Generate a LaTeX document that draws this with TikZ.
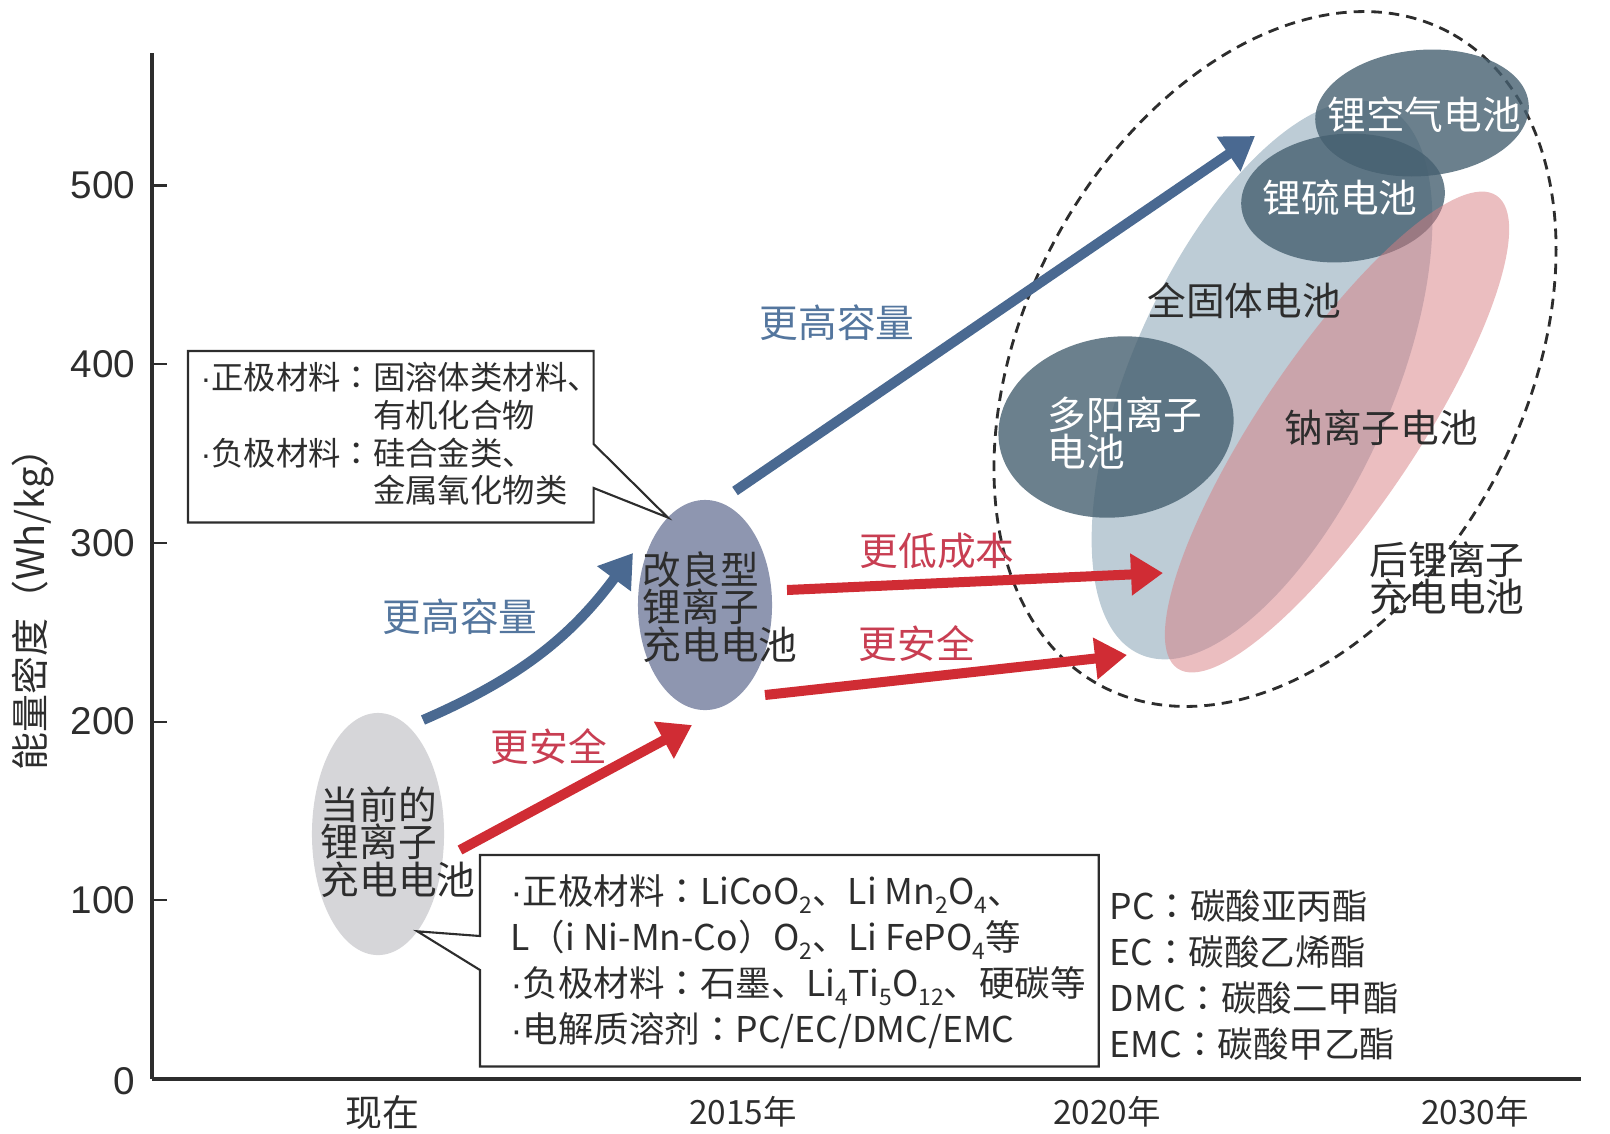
\documentclass[tikz,border=0pt]{standalone}
\usepackage{fontspec}
\setmainfont{Noto Sans CJK SC}
\newfontfamily\tickfont{Liberation Sans}
\newfontfamily\jpfont{Noto Sans CJK JP}
\newcommand{\ndot}{{\tickfont ·}}
\newcommand{\jcolon}{{\jpfont ：}}
\newcommand{\chemsub}[1]{\raisebox{-0.45ex}{\fontsize{6.5}{6.5}\selectfont #1}}
\usetikzlibrary{arrows.meta,positioning,shapes.geometric,calc}

\definecolor{upblue}{RGB}{74,105,145}
\definecolor{upbluetext}{RGB}{84,118,158}
\definecolor{safered}{RGB}{208,44,52}
\definecolor{saferedtext}{RGB}{200,62,82}
\definecolor{nowgray}{RGB}{214,214,217}
\definecolor{impblue}{RGB}{142,150,176}
\definecolor{solidblue}{RGB}{189,204,214}
\definecolor{sodiumpink}{RGB}{215,125,130}
\definecolor{darkslate}{RGB}{70,96,112}
\definecolor{inkgray}{RGB}{45,45,45}

\tikzset{
  blob/.style={ellipse, inner sep=0pt, outer sep=0pt},
  darkblob/.style={blob, fill=darkslate, fill opacity=0.8},
  bigtxt/.style={font=\fontsize{11}{10.6}\selectfont, text=inkgray, align=left, inner sep=0pt},
  whitetxt/.style={bigtxt, text=white},
  notetxt/.style={font=\fontsize{9.2}{10.7}\selectfont, text=inkgray, align=left, inner sep=0pt, anchor=west},
  listtxt/.style={font=\fontsize{10.1}{13.1}\selectfont, text=inkgray, align=left, inner sep=0pt, anchor=west},
  notebox/.style={draw=inkgray, line width=0.6pt, line join=miter},
  ticklbl/.style={anchor=east, inner sep=0pt, font=\tickfont\fontsize{11}{11}\selectfont, text=inkgray},
  fatarrow/.style={line width=0.1cm, -{Triangle[length=0.32cm, width=0.4cm]}},
  bluearrow/.style={fatarrow, color=upblue},
  redarrow/.style={fatarrow, color=safered},
  bluelabel/.style={font=\fontsize{11}{11}\selectfont, text=upbluetext},
  redlabel/.style={font=\fontsize{11}{11}\selectfont, text=saferedtext},
}

\begin{document}
\begin{tikzpicture}[x=0.01cm, y=-0.01cm]
    \useasboundingbox (0,0) rectangle (1610,1133);

    % axes
    \coordinate (ytop) at (152,53);
    \coordinate (origin) at (152,1079);
    \coordinate (xend) at (1581,1079);
    \draw[line width=1pt, inkgray] (ytop) -- (origin);
    \draw[line width=1.4pt, inkgray] (origin) -- (xend);
    \foreach \i in {1,...,5}{
        \draw[line width=0.6pt, inkgray] (152,1079-178.7*\i) -- ++(15,0);
        \node[ticklbl] at (136,1079-178.7*\i) {\i00};
    }
    \node[ticklbl] (zero) at (136,1081) {0};
    \node[rotate=90, font=\fontsize{10.8}{10.8}\selectfont, text=inkgray] (ylabel) at (33,600) {能量密度（Wh/kg）};
    \node[font=\fontsize{10.5}{10.5}\selectfont, text=inkgray] (now) at (382,1112) {现在};
    \node[font=\fontsize{9.5}{9.5}\selectfont, text=inkgray] (y2015) at (743,1112) {2015年};
    \node[font=\fontsize{9.5}{9.5}\selectfont, text=inkgray] (y2020) at (1107,1112) {2020年};
    \node[font=\fontsize{9.5}{9.5}\selectfont, text=inkgray] (y2030) at (1475,1112) {2030年};

    % post lithium-ion group
    \node[blob, draw=inkgray, line width=0.8pt, dash pattern=on 3pt off 2pt, rotate=62,
          minimum width=7.4cm, minimum height=5cm] (postli) at (1275,359) {};
    \node[blob, fill=solidblue, rotate=66, minimum width=6cm, minimum height=2.6cm] (solid) at (1262,380) {};
    \node[darkblob, rotate=5, minimum width=2.14cm, minimum height=1.26cm] (liair) at (1422,113) {};
    \node[darkblob, rotate=5, minimum width=2.04cm, minimum height=1.28cm] (lis) at (1343,198) {};
    \node[darkblob, rotate=8, minimum width=2.36cm, minimum height=1.8cm] (multi) at (1116,427) {};
    \node[blob, fill=sodiumpink, fill opacity=0.5, rotate=56, minimum width=5.7cm, minimum height=1.56cm] (sodium) at (1337,432) {};

    % cells
    \node[blob, fill=nowgray, minimum width=1.32cm, minimum height=2.42cm] (nowcell) at (378,834) {};
    \node[blob, fill=impblue, minimum width=1.34cm, minimum height=2.1cm] (impcell) at (705,605) {};

    % notes
    \node[inner sep=0pt, minimum width=4.04cm, minimum height=1.7cm, anchor=north west] (upbox) at (188,351) {};
    \draw[notebox] (upbox.north west) -- (upbox.north east) -- ($(upbox.north east)+(0,93)$)
        -- (impcell.113) -- ($(upbox.north east)+(0,137)$) -- (upbox.south east) -- (upbox.south west) -- cycle;
    \node[notetxt] (upnote) at (200,434) {\ndot 正极材料\jcolon 固溶体类材料、\\\phantom{\ndot 正极材料\jcolon}有机化合物\\\ndot 负极材料\jcolon 硅合金类、\\\phantom{\ndot 正极材料\jcolon}金属氧化物类};

    \node[inner sep=0pt, minimum width=6.17cm, minimum height=2.1cm, anchor=north west] (lowbox) at (480,855) {};
    \draw[notebox] (lowbox.north west) -- (lowbox.north east) -- (lowbox.south east) -- (lowbox.south west)
        -- ($(lowbox.north west)+(0,115)$) -- (nowcell.292) -- ($(lowbox.north west)+(0,81)$) -- cycle;
    \node[listtxt] (lownote) at (510,962) {\ndot 正极材料\jcolon LiCoO\chemsub{2}、Li Mn\chemsub{2}O\chemsub{4}、\\L（i Ni-Mn-Co）O\chemsub{2}、Li FePO\chemsub{4}等\\\ndot 负极材料\jcolon 石墨、Li\chemsub{4}Ti\chemsub{5}O\chemsub{12}、硬碳等\\\ndot 电解质溶剂\jcolon PC/EC/DMC/EMC};
    \node[listtxt] (abbr) at (1109,975) {PC\jcolon 碳酸亚丙酯\\EC\jcolon 碳酸乙烯酯\\DMC\jcolon 碳酸二甲酯\\EMC\jcolon 碳酸甲乙酯};

    % arrows
    \coordinate (capA) at (423,720);
    \coordinate (capB) at (633,553);
    \coordinate (safeA) at (460,850);
    \coordinate (safeB) at (692,725);
    \coordinate (capC) at (735,491);
    \coordinate (capD) at (1255,136);
    \coordinate (costA) at (787,590);
    \coordinate (costB) at (1163,573);
    \coordinate (safeC) at (765,695);
    \coordinate (safeD) at (1127,655);
    \path[bluearrow]
        (capA) edge[bend right=15] (capB)
        (capC) edge (capD)
    ;
    \path[redarrow]
        (safeA) edge (safeB)
        (costA) edge (costB)
        (safeC) edge (safeD)
    ;
    \node[bluelabel] (caplow) at (460,617) {更高容量};
    \node[redlabel] (safelow) at (549,747) {更安全};
    \node[bluelabel] (caphigh) at (837,323) {更高容量};
    \node[redlabel] (costlbl) at (937,551) {更低成本};
    \node[redlabel] (safehigh) at (917,644) {更安全};

    % texts
    \node[bigtxt, anchor=west] (nowtxt) at (320,842) {当前的\\锂离子\\充电电池};
    \node[bigtxt, anchor=west] (imptxt) at (642,607) {改良型\\锂离子\\充电电池};
    \node[whitetxt] (liairtxt) at (1424,115) {锂空气电池};
    \node[whitetxt] (listxt) at (1340,198) {锂硫电池};
    \node[whitetxt, anchor=west] (multitxt) at (1047,433) {多阳离子\\电池};
    \node[bigtxt] (solidtxt) at (1244,301) {全固体电池};
    \node[bigtxt] (sodiumtxt) at (1381,428) {钠离子电池};
    \node[bigtxt, anchor=west] (postlitxt) at (1369,578) {后锂离子\\充电电池};
\end{tikzpicture}
\end{document}
